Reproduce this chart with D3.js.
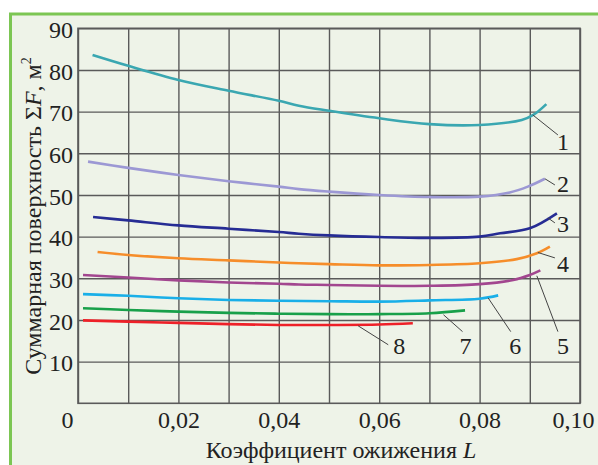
<!DOCTYPE html>
<html><head><meta charset="utf-8">
<script src="https://cdn.jsdelivr.net/npm/d3@7"></script>
<style>
html,body{margin:0;padding:0;background:#fff;}
svg{display:block;}
text{font-family:"Liberation Serif","DejaVu Serif",serif;fill:#222;}
</style></head>
<body>
<svg id="chart" width="598" height="465"></svg>
<script>
// ---- data ----
const xTicks = [0, 0.01, 0.02, 0.03, 0.04, 0.05, 0.06, 0.07, 0.08, 0.09, 0.10];
const yTicks = [10, 20, 30, 40, 50, 60, 70, 80, 90];
const curveNames = ["1","2","3","4","5","6","7","8"];
const curveColors = ["#3aa7b1","#9c98d4","#262c94","#f68d2a","#a2468f","#19afe8","#18a04a","#ee2028"];

const L1 = [0.0029,0.01,0.02,0.03,0.04,0.044,0.05,0.06,0.07,0.08,0.0884,0.0907,0.0933];
const F1 = [83.6,81.0,77.6,75.0,72.6,71.4,70.2,68.4,67.0,66.8,68.0,69.2,71.8];
const L2 = [0.002,0.01,0.02,0.03,0.04,0.044,0.05,0.06,0.07,0.08,0.086,0.0896,0.093];
const F2 = [58.0,56.5,54.8,53.3,52.0,51.4,50.8,50.0,49.5,49.6,50.6,52.0,53.9];
const L3 = [0.003,0.01,0.02,0.03,0.04,0.044,0.05,0.06,0.07,0.08,0.0841,0.0900,0.0954];
const F3 = [44.7,43.9,42.7,41.9,41.1,40.7,40.3,39.9,39.7,40.0,40.8,42.0,45.6];
const L4 = [0.0039,0.01,0.02,0.03,0.04,0.044,0.05,0.06,0.07,0.08,0.0874,0.0914,0.0940];
const F4 = [36.3,35.6,34.8,34.3,33.8,33.6,33.4,33.1,33.2,33.6,34.6,36.0,37.6];
const L5 = [0.001,0.01,0.02,0.03,0.04,0.044,0.05,0.06,0.07,0.08,0.0867,0.0900,0.0921];
const F5 = [30.8,30.2,29.5,29.0,28.7,28.5,28.4,28.2,28.2,28.6,29.6,30.8,31.9];
const L6 = [0.001,0.01,0.02,0.03,0.04,0.05,0.06,0.07,0.08,0.0837];
const F6 = [26.2,25.8,25.2,24.8,24.6,24.5,24.4,24.7,25.1,25.9];
const L7 = [0.001,0.01,0.02,0.03,0.04,0.05,0.06,0.07,0.0771];
const F7 = [22.8,22.4,22.0,21.7,21.5,21.4,21.4,21.6,22.3];
const L8 = [0.001,0.01,0.02,0.03,0.04,0.05,0.06,0.0667];
const F8 = [19.9,19.6,19.3,19.0,18.8,18.8,18.9,19.2];

// leader lines (data units): from point on curve to near the label
const leadFromL = [0.0906,0.0930,0.0936,0.0916,0.0914,0.0817,0.0728,0.0558];
const leadFromF = [69.2,53.9,44.5,36.2,30.6,25.3,21.25,18.6];
const leadToL   = [0.0956,0.0950,0.0950,0.0950,0.0956,0.0862,0.0766,0.0618];
const leadToF   = [64.4,52.4,43.3,34.9,17.2,17.2,17.2,14.05];
const labelL    = [0.0966,0.0966,0.0966,0.0966,0.0966,0.0871,0.0772,0.0640];
const labelF    = [60.8,50.8,41.0,31.6,11.9,11.9,11.9,11.9];

const xTitle = "Коэффициент ожижения ";
const yTitle = "Суммарная поверхность ";

// ---- drawing ----
const svg = d3.select("#chart");
const m = {left:78, top:28.3, right:580, bottom:403.3};

svg.append("rect").attr("x",10.5).attr("y",14).attr("width",600).attr("height",470)
  .attr("fill","#eef3e8").attr("stroke","#7cc653").attr("stroke-width",3);

const x = d3.scaleLinear().domain([0,0.10]).range([m.left,m.right]);
const y = d3.scaleLinear().domain([0,90]).range([m.bottom,m.top]);
const W = m.right-m.left, H = m.bottom-m.top;

const fmt = v => v===0 ? "0" : (Math.round(v*100)%2===0 ? d3.format(".2f")(v).replace(".",",") : "");

// x axis with vertical grid
const gx = svg.append("g").attr("transform",`translate(0,${m.bottom})`)
  .call(d3.axisBottom(x).tickValues(xTicks).tickSize(-H).tickPadding(6).tickFormat(fmt));
// y axis with horizontal grid
const gy = svg.append("g").attr("transform",`translate(${m.left},0)`)
  .call(d3.axisLeft(y).tickValues(yTicks).tickSize(-W).tickPadding(6).tickFormat(d3.format("d")));

[gx,gy].forEach(g=>{
  g.select(".domain").remove();
  g.selectAll(".tick line").attr("stroke","#5a5a5a").attr("stroke-width",1.4);
  g.selectAll(".tick text").attr("font-size",24).attr("font-family","Liberation Serif, serif").attr("fill","#222");
});
gx.selectAll(".tick text").attr("y",null).attr("dy",null).attr("transform",null)
  .attr("y",25);
gx.selectAll(".tick").filter(d=>d===0).select("text").attr("dx",-11);
gx.selectAll(".tick").filter(d=>d===0.10).select("text").attr("dx",-7);
gy.selectAll(".tick text").attr("x",-5).attr("dy","0.38em");

// frame lines (axes box)
svg.append("rect").attr("x",m.left).attr("y",m.top).attr("width",W).attr("height",H)
  .attr("fill","none").attr("stroke","#5a5a5a").attr("stroke-width",1.6);

// curves
const Ls=[L1,L2,L3,L4,L5,L6,L7,L8], Fs=[F1,F2,F3,F4,F5,F6,F7,F8];
const line = d3.line().x(d=>x(d[0])).y(d=>y(d[1])).curve(d3.curveCatmullRom.alpha(0.5));
Ls.forEach((Lv,i)=>{
  const pts = Lv.map((v,j)=>[v,Fs[i][j]]);
  svg.append("path").datum(pts).attr("d",line).attr("fill","none")
    .attr("stroke",curveColors[i]).attr("stroke-width",2.6).attr("stroke-linecap","butt");
});

// leaders and labels
curveNames.forEach((n,i)=>{
  svg.append("line").attr("x1",x(leadFromL[i])).attr("y1",y(leadFromF[i]))
    .attr("x2",x(leadToL[i])).attr("y2",y(leadToF[i]))
    .attr("stroke","#444").attr("stroke-width",1);
  svg.append("text").attr("x",x(labelL[i])).attr("y",y(labelF[i]))
    .attr("text-anchor","middle").attr("font-size",24).text(n);
});

// axis titles
const xt = svg.append("text").attr("x",341).attr("y",458).attr("text-anchor","middle").attr("font-size",24);
xt.append("tspan").text(xTitle);
xt.append("tspan").attr("font-style","italic").text("L");

const yt = svg.append("text").attr("transform","translate(41,216) rotate(-90)")
  .attr("text-anchor","middle").attr("font-size",24);
yt.append("tspan").text(yTitle);
yt.append("tspan").text("Σ");
yt.append("tspan").attr("font-style","italic").text("F");
yt.append("tspan").text(", м");
yt.append("tspan").attr("font-size",14).attr("dy",-10).text("2");
</script>
</body></html>
